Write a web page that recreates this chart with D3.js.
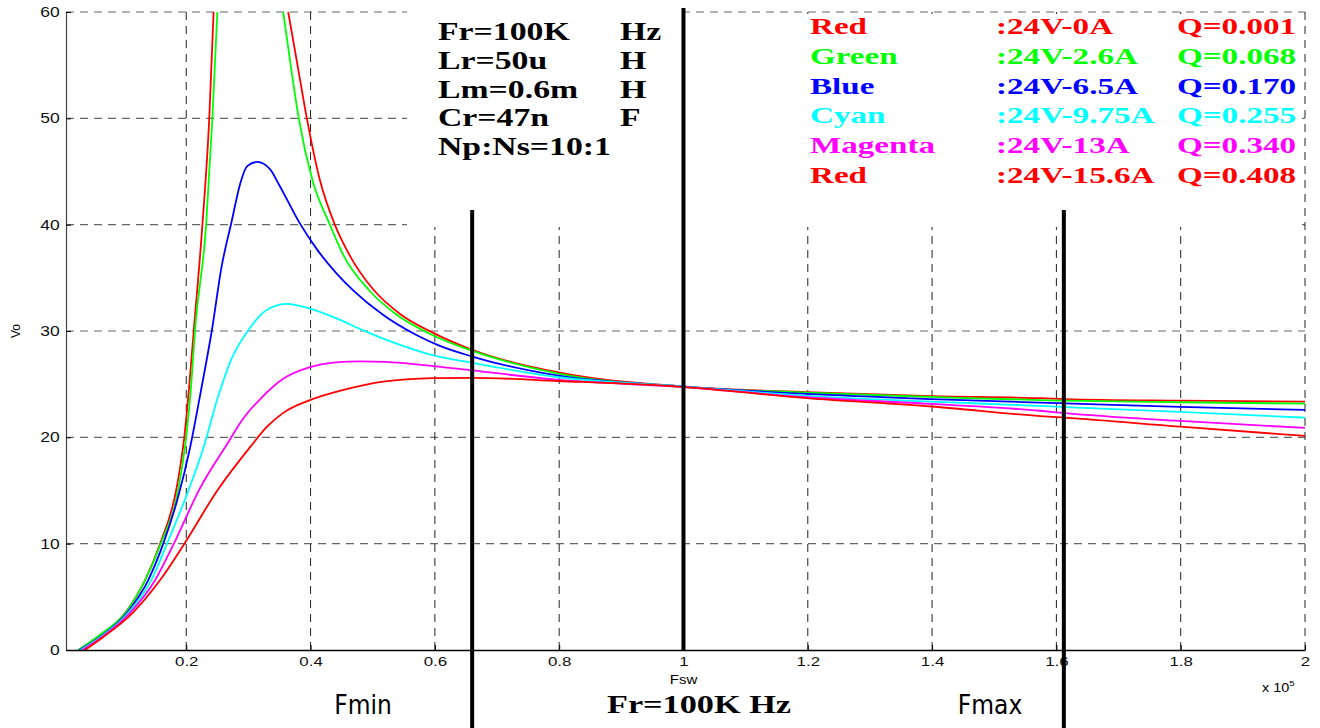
<!DOCTYPE html>
<html>
<head>
<meta charset="utf-8">
<script src="https://cdn.jsdelivr.net/npm/d3@7"></script>
<style>
  body { margin: 0; background: #fff; }
  svg { display: block; }
</style>
</head>
<body>
<div class="root"></div>
<script>
var width = 1320,
    height = 728,
    plot = { left: 66, right: 1305, top: 12, bottom: 650 },
    xMin = 0.0065;

// ticks
var xTicks = [0.2, 0.4, 0.6, 0.8, 1.0, 1.2, 1.4, 1.6, 1.8, 2.0];
var yTicks = [0, 10, 20, 30, 40, 50, 60];

// legend text
var seriesNames = ["Red", "Green", "Blue", "Cyan", "Magenta", "Red"];
var seriesLoads = [":24V-0A", ":24V-2.6A", ":24V-6.5A", ":24V-9.75A", ":24V-13A", ":24V-15.6A"];
var seriesQ = ["Q=0.001", "Q=0.068", "Q=0.170", "Q=0.255", "Q=0.340", "Q=0.408"];
var seriesColors = ["#ff0000", "#00ff00", "#0000ff", "#00ffff", "#ff00ff", "#ff0000"];

// tank parameters
var paramNames = ["Fr=100K", "Lr=50u", "Lm=0.6m", "Cr=47n", "Np:Ns=10:1"];
var paramUnits = ["Hz", "H", "H", "F", ""];

// Fmin / Fr / Fmax markers (x 10^5 Hz)
var markerF = [0.66, 1.0, 1.612];
var markerLabels = ["Fmin", "Fr=100K Hz", "Fmax"];

// gain curves [Fsw (x10^5), Vo]; null = above 60 (off chart)
var vo_q001 = [[0.027,0],[0.062,1.3],[0.102,3.5],[0.134,6.6],[0.158,10],[0.185,15.4],[0.197,20.1],[0.205,25],[0.212,30],[0.226,40],[0.237,50],[0.244,60],
  [0.30,null],
  [0.364,60],[0.379,55],[0.394,50],[0.415,44.2],[0.439,40],[0.464,37],[0.501,33.9],[0.544,31.6],[0.598,29.8],[0.657,28.3],[0.799,26.1],[0.997,24.8],[1.198,24.24],[1.399,23.87],[1.574,23.68],[1.614,23.6],[1.799,23.45],[2.0,23.36]];
var vo_q068 = [[0.026,0],[0.058,1.3],[0.102,3.5],[0.134,6.6],[0.159,10],[0.188,15.4],[0.2,20.1],[0.208,25],[0.214,30],[0.232,40],[0.242,50],[0.25,60],
  [0.30,null],
  [0.356,60],[0.368,55],[0.381,50],[0.403,44.2],[0.431,40],[0.454,37],[0.493,33.9],[0.537,31.6],[0.593,29.7],[0.657,28.2],[0.799,26.0],[0.997,24.75],[1.198,24.2],[1.399,23.8],[1.574,23.5],[1.614,23.45],[1.799,23.3],[2.0,23.17]];
var vo_q170 = [[0.028,0],[0.062,1.25],[0.104,3.45],[0.139,6.6],[0.163,10],[0.186,14.2],[0.206,19],[0.224,24.5],[0.241,30],[0.257,36.1],[0.273,40.3],[0.287,43.9],[0.298,45.5],[0.314,45.9],[0.335,45.2],[0.348,43.9],[0.383,40.1],[0.41,37.7],[0.442,35.4],[0.469,33.8],[0.517,31.5],[0.571,29.6],[0.608,28.6],[0.66,27.6],[0.799,25.8],[0.997,24.8],[1.198,24.08],[1.399,23.6],[1.574,23.27],[1.614,23.2],[1.799,22.86],[2.0,22.58]];
var vo_q255 = [[0.03,0],[0.062,1.2],[0.106,3.45],[0.144,6.6],[0.169,10],[0.206,15.4],[0.228,19.1],[0.25,23.6],[0.273,27.4],[0.3,30.1],[0.33,32.0],[0.362,32.55],[0.399,32.1],[0.437,31.3],[0.491,29.9],[0.544,28.7],[0.598,27.7],[0.66,27.0],[0.799,25.65],[0.997,24.8],[1.198,23.9],[1.399,23.36],[1.574,22.95],[1.614,22.85],[1.799,22.39],[2.0,21.85]];
var vo_q340 = [[0.033,0],[0.064,1.2],[0.108,3.4],[0.15,6.58],[0.18,10],[0.222,15.2],[0.265,19.3],[0.292,21.8],[0.319,23.6],[0.356,25.5],[0.399,26.6],[0.44,27.05],[0.48,27.15],[0.52,27.1],[0.598,26.7],[0.66,26.3],[0.799,25.4],[0.997,24.75],[1.198,23.77],[1.399,23.14],[1.574,22.5],[1.614,22.27],[1.799,21.54],[2.0,20.88]];
var vo_q408 = [[0.037,0],[0.066,1.2],[0.113,3.45],[0.158,6.58],[0.197,10],[0.25,15.0],[0.303,19.1],[0.33,21.0],[0.356,22.3],[0.399,23.5],[0.453,24.46],[0.517,25.24],[0.598,25.56],[0.66,25.6],[0.799,25.3],[0.997,24.75],[1.198,23.68],[1.399,22.9],[1.574,22.0],[1.614,21.85],[1.799,21.0],[2.0,20.13]];
var curves = [vo_q001, vo_q068, vo_q170, vo_q255, vo_q340, vo_q408];

var serif = "'Liberation Serif', 'Times New Roman', serif",
    sans = "'Liberation Sans', Arial, sans-serif";

var x = d3.scaleLinear().domain([xMin, 2]).range([plot.left, plot.right]);
var y = d3.scaleLinear().domain([0, 60]).range([plot.bottom, plot.top]);

var svg = d3.select(".root")
  .append("svg")
  .attr("width", width)
  .attr("height", height);

svg.append("defs").append("clipPath").attr("id", "plotclip")
  .append("rect")
  .attr("x", plot.left).attr("y", plot.top)
  .attr("width", plot.right - plot.left).attr("height", plot.bottom - plot.top);

// grid
var grid = svg.append("g").attr("class", "grid");
grid.selectAll("line.h")
  .data(yTicks.filter(d => d > 0))
  .enter().append("line")
  .attr("class", "h")
  .attr("x1", plot.left).attr("x2", plot.right)
  .attr("y1", d => y(d)).attr("y2", d => y(d))
  .attr("stroke", "#666").attr("stroke-width", 1.2)
  .attr("stroke-dasharray", "8,6");
grid.selectAll("line.v")
  .data(xTicks)
  .enter().append("line")
  .attr("class", "v")
  .attr("x1", d => x(d)).attr("x2", d => x(d))
  .attr("y1", plot.top).attr("y2", plot.bottom)
  .attr("stroke", "#222").attr("stroke-width", 1)
  .attr("stroke-dasharray", "8,6");

// white boxes behind the annotation text
svg.append("rect")
  .attr("x", 407).attr("y", 8).attr("width", x(1.0) - 407).attr("height", 219)
  .attr("fill", "#fff");
svg.append("rect")
  .attr("x", x(1.0)).attr("y", 14).attr("width", plot.right - 3 - x(1.0)).attr("height", 213)
  .attr("fill", "#fff");

// curves
var line = d3.line()
  .defined(d => d[1] !== null)
  .x(d => x(d[0]))
  .y(d => y(d[1]))
  .curve(d3.curveMonotoneX);

svg.append("g")
  .attr("clip-path", "url(#plotclip)")
  .selectAll("path")
  .data(curves)
  .enter().append("path")
  .attr("d", line)
  .attr("fill", "none")
  .attr("stroke", (d, i) => seriesColors[i])
  .attr("stroke-width", 1.8);

// axes
var xAxis = svg.append("g")
  .attr("transform", "translate(0," + plot.bottom + ")")
  .call(d3.axisBottom(x).tickValues(xTicks).tickFormat(d3.format("~g"))
    .tickSizeInner(-5).tickSizeOuter(0).tickPadding(7));
xAxis.select(".domain").attr("stroke", "#000").attr("stroke-width", 1.3);
xAxis.selectAll("text")
  .attr("font-family", sans).attr("font-size", 13).attr("fill", "#111")
  .attr("transform", "scale(1.3,1)")
  .attr("x", 0);

var yAxis = svg.append("g")
  .attr("transform", "translate(" + plot.left + ",0)")
  .call(d3.axisLeft(y).tickValues(yTicks).tickSizeInner(-5).tickSizeOuter(0).tickPadding(5));
yAxis.select(".domain").attr("stroke", "#444").attr("stroke-width", 1.2);
yAxis.selectAll("text")
  .attr("font-family", sans).attr("font-size", 14).attr("fill", "#111")
  .attr("transform", "scale(1.25,1)");

svg.append("text")
  .attr("transform", "translate(20," + y(30) + ") rotate(-90)")
  .attr("text-anchor", "middle")
  .attr("font-family", sans).attr("font-size", 12)
  .text("Vo");

svg.append("text")
  .attr("transform", "translate(" + x(1.0) + ",684) scale(1.25,1)")
  .attr("text-anchor", "middle")
  .attr("font-family", sans).attr("font-size", 12)
  .text("Fsw");

var mult = svg.append("text")
  .attr("transform", "translate(1262,692) scale(1.2,1)")
  .attr("font-family", sans).attr("font-size", 12);
mult.append("tspan").text("x 10");
mult.append("tspan").attr("font-size", 8).attr("dy", -6).text("5");

// marker lines: Fmin/Fmax run off the bottom, Fr stops at the axis
var markerTop = [210, 8, 210],
    markerBottom = [height, plot.bottom, height];
svg.selectAll("line.marker")
  .data(markerF)
  .enter().append("line")
  .attr("class", "marker")
  .attr("x1", d => x(d)).attr("x2", d => x(d))
  .attr("y1", (d, i) => markerTop[i]).attr("y2", (d, i) => markerBottom[i])
  .attr("stroke", "#000").attr("stroke-width", 4);

// labels under the plot
var markerLabelX = [363, 699, 990];
markerLabels.forEach(function (t, i) {
  var el = svg.append("text")
    .attr("text-anchor", "middle")
    .text(t);
  if (i === 1) {
    el.attr("transform", "translate(" + markerLabelX[i] + ",713) scale(1.37,1)")
      .attr("font-family", serif).attr("font-weight", "bold").attr("font-size", 25);
  } else {
    el.attr("transform", "translate(" + markerLabelX[i] + ",714)")
      .attr("font-family", "'DejaVu Sans Condensed', 'DejaVu Sans', sans-serif").attr("font-size", 26);
  }
});

// parameter block
var params = svg.append("g");
paramNames.forEach(function (t, i) {
  var by = 40 + i * 28.8;
  params.append("text")
    .attr("transform", "translate(438," + by + ") scale(1.35,1)")
    .attr("font-family", serif).attr("font-weight", "bold").attr("font-size", 25)
    .text(t);
  if (paramUnits[i]) {
    params.append("text")
      .attr("transform", "translate(620," + by + ") scale(1.35,1)")
      .attr("font-family", serif).attr("font-weight", "bold").attr("font-size", 25)
      .text(paramUnits[i]);
  }
});

// legend block
var legend = svg.append("g");
var legendCols = [810, 996, 1177];
seriesNames.forEach(function (n, i) {
  var by = 34 + i * 29.8;
  [n, seriesLoads[i], seriesQ[i]].forEach(function (t, j) {
    legend.append("text")
      .attr("transform", "translate(" + legendCols[j] + "," + by + ") scale(1.38,1)")
      .attr("font-family", serif).attr("font-weight", "bold").attr("font-size", 24)
      .attr("fill", seriesColors[i])
      .text(t);
  });
});
</script>
</body>
</html>
